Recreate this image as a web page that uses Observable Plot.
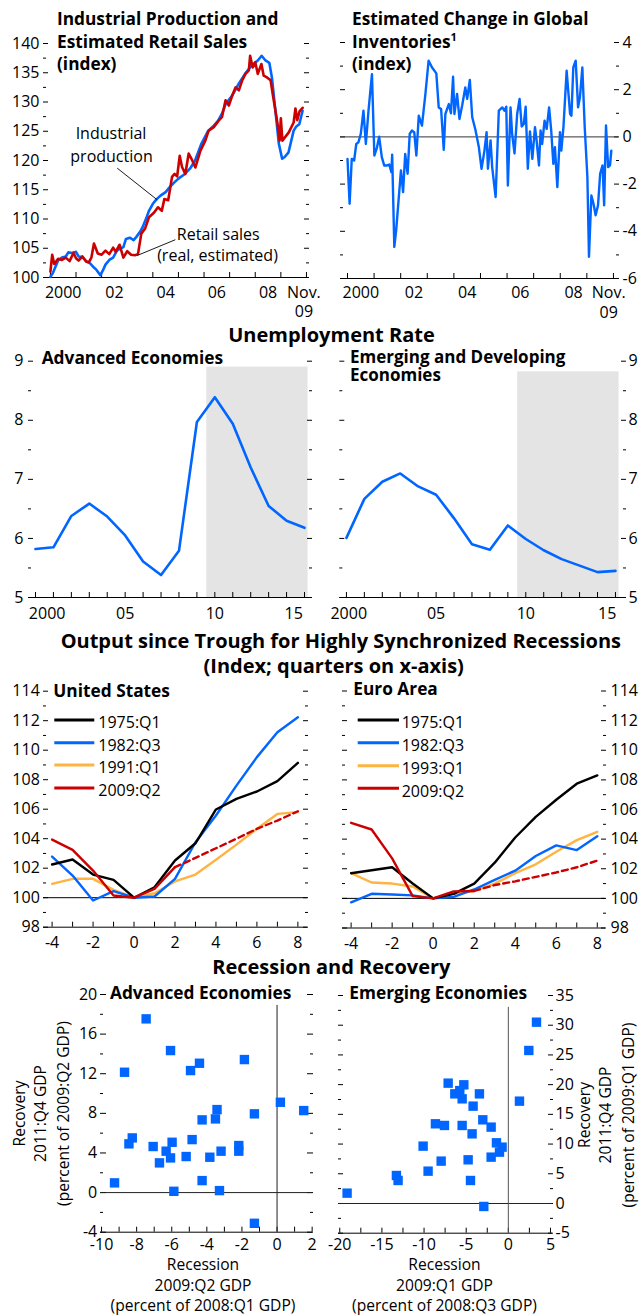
<!DOCTYPE html>
<html lang="en">
<head>
<meta charset="utf-8">
<title>Recession and recovery charts</title>
<script src="https://cdn.jsdelivr.net/npm/d3@7"></script>
<script src="https://cdn.jsdelivr.net/npm/@observablehq/plot@0.6"></script>
<style>
html, body { margin:0; padding:0; background:#fff; }
#root { position:relative; width:644px; height:1316px; overflow:hidden; background:#fff; color:#000; font-family:"Open Sans", sans-serif; }
#root > svg { position:absolute; }
</style>
</head>
<body>
<div id="root"></div>
<script>
// ================= DATA =================
// Panel 1: industrial production and retail sales (index), dates as decimal years
const ipDates = [2000.0,2000.1,2000.3,2000.45,2000.6,2000.7,2000.85,2001.0,2001.1,2001.25,2001.4,2001.55,2001.7,2001.8,2001.95,2002.05,2002.15,2002.3,2002.45,2002.6,2002.75,2002.85,2002.95,2003.1,2003.25,2003.35,2003.5,2003.6,2003.75,2003.85,2004.0,2004.15,2004.3,2004.5,2004.65,2004.85,2005.0,2005.25,2005.45,2005.65,2005.9,2006.15,2006.35,2006.55,2006.7,2006.85,2007.1,2007.35,2007.6,2007.85,2008.1,2008.25,2008.4,2008.55,2008.65,2008.8,2008.92,2009.05,2009.15,2009.3,2009.5,2009.6,2009.72,2009.85];
const ipValues = [100.1,100.8,102.9,103.4,103.6,104.3,104.2,104.4,103.6,103.5,102.8,102.4,101.7,101.3,100.4,101.2,102.2,103.0,103.4,104.6,105.0,105.2,106.6,106.8,106.4,106.9,107.8,108.6,110.2,111.4,112.6,113.4,114.0,114.6,115.4,116.3,116.9,117.7,118.6,120.0,122.9,125.0,125.8,126.8,128.0,129.7,131.1,133.1,134.8,136.2,137.1,137.9,137.1,136.7,134.2,128.0,122.9,120.3,120.6,121.4,125.1,125.8,126.2,128.5];
const rsDates = [2000.0,2000.07,2000.15,2000.3,2000.45,2000.6,2000.75,2000.9,2001.0,2001.1,2001.25,2001.4,2001.5,2001.6,2001.7,2001.85,2002.0,2002.15,2002.3,2002.45,2002.55,2002.7,2002.85,2003.0,2003.15,2003.3,2003.42,2003.55,2003.7,2003.85,2004.05,2004.2,2004.35,2004.45,2004.6,2004.75,2004.85,2004.95,2005.05,2005.14,2005.27,2005.4,2005.52,2005.66,2005.86,2006.05,2006.18,2006.38,2006.57,2006.7,2006.84,2006.97,2007.1,2007.23,2007.36,2007.49,2007.62,2007.75,2007.8,2007.9,2008.0,2008.1,2008.24,2008.33,2008.46,2008.6,2008.7,2008.87,2008.95,2009.0,2009.06,2009.31,2009.5,2009.57,2009.64,2009.73,2009.85];
const rsValues = [101.0,103.9,102.3,103.2,103.0,103.4,102.8,104.2,103.3,102.9,103.6,102.7,102.6,103.4,105.8,104.1,103.9,104.6,104.0,105.1,104.4,105.6,103.4,104.5,103.9,103.8,104.0,107.5,108.4,110.3,111.1,112.0,111.4,113.4,113.2,117.2,117.7,117.3,120.8,118.9,117.7,121.2,120.2,118.8,121.7,123.4,125.1,125.7,126.8,127.4,130.3,129.4,131.1,132.5,132.0,133.7,134.8,135.4,137.9,135.9,136.8,134.8,136.5,134.5,134.2,133.7,130.9,126.3,123.4,127.2,123.4,124.8,126.5,128.9,126.9,128.4,129.0];

// Panel 2: estimated change in global inventories
const invDates = [2000.00,2000.08,2000.16,2000.25,2000.33,2000.41,2000.50,2000.60,2000.69,2000.79,2000.92,
  2001.01,2001.11,2001.19,2001.29,2001.38,2001.48,2001.57,2001.65,2001.68,2001.76,2001.83,
  2002.01,2002.09,2002.17,2002.26,2002.34,2002.42,2002.51,2002.59,2002.68,2002.80,2002.93,
  2003.05,2003.18,2003.34,2003.43,2003.52,2003.62,2003.68,2003.81,2003.89,2003.97,
  2004.02,2004.12,2004.21,2004.31,2004.43,2004.50,2004.60,2004.69,2004.81,2004.94,
  2005.04,2005.15,2005.23,2005.28,2005.38,2005.44,2005.57,2005.69,2005.82,2005.90,2005.97,
  2006.03,2006.13,2006.19,2006.28,2006.38,2006.47,2006.55,2006.63,2006.70,2006.78,2006.86,2006.95,
  2007.05,2007.11,2007.20,2007.26,2007.32,2007.41,2007.49,2007.58,2007.66,2007.74,2007.80,2007.89,2007.99,
  2008.04,2008.12,2008.24,2008.37,2008.42,2008.49,2008.58,2008.67,2008.74,2008.83,2008.92,
  2009.02,2009.08,2009.17,2009.25,2009.33,2009.42,2009.50,2009.59,2009.65,2009.72,2009.80,2009.87,2009.92];
const invValues = [-0.93,-2.83,-0.93,-1.00,-0.30,-0.23,0.13,1.11,-0.30,1.11,2.66,
  -0.79,-0.44,0.01,-0.86,-1.21,-1.21,-1.17,-1.49,-0.75,-4.66,-3.96,
  -1.42,-2.34,-0.72,-1.56,0.13,0.27,0.20,-0.79,0.90,0.48,1.82,
  3.23,2.94,2.69,1.25,1.18,-0.55,0.97,1.39,1.00,2.55,
  0.97,1.82,0.76,1.32,2.10,1.61,2.41,0.83,0.30,-0.44,
  -1.35,-0.58,0.20,-1.35,-0.15,-1.28,-2.55,1.11,1.25,1.11,1.28,
  -2.06,1.25,0.13,-0.70,0.97,1.61,0.44,0.55,1.28,-1.35,0.23,-0.93,
  0.41,-0.15,-1.21,0.27,-0.30,0.69,0.34,1.25,0.27,-1.14,-0.44,-2.13,0.20,
  -0.58,0.41,2.80,0.97,0.90,2.94,3.23,1.25,1.68,2.94,0.41,
  -1.70,-5.08,-2.48,-2.83,-3.32,-2.90,-1.56,-1.21,-2.90,0.48,-1.28,-1.21,-0.58];

// Unemployment rate (percent)
const unempYears = [2000,2001,2002,2003,2004,2005,2006,2007,2008,2009,2010,2011,2012,2013,2014,2015];
const unempAdvanced = [5.82,5.85,6.38,6.59,6.37,6.05,5.61,5.38,5.79,7.97,8.39,7.94,7.20,6.55,6.30,6.18];
const unempEmerging = [6.01,6.67,6.96,7.10,6.88,6.74,6.34,5.90,5.81,6.22,5.99,5.80,5.65,5.54,5.43,5.45];
const projectionStart = 2009.55, projectionEnd = 2015.2;

// Output since trough (index), quarters -4..8
const quarters = [-4,-3,-2,-1,0,1,2,3,4,5,6,7,8];
const us1975 = [102.25,102.59,101.57,101.21,100,100.71,102.52,103.69,105.98,106.70,107.20,107.90,109.14];
const us1982 = [102.79,101.50,99.81,100.44,100,100.08,101.28,103.76,105.57,107.60,109.53,111.22,112.24];
const us1991 = [100.94,101.28,101.28,100.53,100,100.30,101.10,101.57,102.57,103.60,104.67,105.68,105.80];
const us2009 = [103.94,103.24,101.84,100.15,100,100.60,102.07];          // quarters -4..2
const us2009Proj = [102.07,102.70,103.35,104.00,104.67,105.23,105.86];   // quarters 2..8
const eu1975 = [101.70,101.90,102.10,101.00,100,100.30,101.00,102.41,104.11,105.50,106.66,107.74,108.30];
const eu1982 = [99.73,100.31,100.26,100.20,100,100.10,100.60,101.25,101.87,102.86,103.58,103.26,104.20];
const eu1993 = [101.70,101.07,101.00,100.80,100,100.30,100.50,101.00,101.70,102.30,103.15,103.93,104.49];
const eu2009 = [105.10,104.65,102.70,100.15,100,100.47,100.50];
const eu2009Proj = [100.50,100.90,101.15,101.45,101.75,102.10,102.55];
const usLegend = ["1975:Q1","1982:Q3","1991:Q1","2009:Q2"];
const euLegend = ["1975:Q1","1982:Q3","1993:Q1","2009:Q2"];

// Recession and recovery scatter
const advRecession = [-7.46,-6.07,-8.69,-4.42,-4.93,-1.86,0.19,1.52,-1.29,-3.42,-3.51,-4.27,-8.25,-8.44,-7.06,-5.98,-4.84,-6.32,-6.07,-5.18,-6.70,-3.83,-3.19,-2.18,-2.18,-9.26,-4.27,-5.88,-3.28,-1.29];
const advRecovery  = [17.54,14.34,12.15,13.06,12.32,13.43,9.12,8.28,7.95,8.38,7.44,7.34,5.52,4.92,4.65,5.08,5.35,4.18,3.50,3.64,3.00,3.57,4.18,4.75,4.18,0.98,1.21,0.13,0.20,-3.10];
const emRecession  = [3.34,2.43,1.32,-7.14,-5.28,-6.35,-5.76,-5.48,-3.43,-4.18,-8.65,-7.58,-5.48,-3.03,-2.04,-4.30,-10.11,-1.41,-0.74,-1.05,-2.04,-7.97,-4.77,-9.52,-13.28,-13.08,-4.49,-19.13,-2.91];
const emRecovery   = [30.51,25.75,17.22,20.25,19.97,18.45,19.00,17.61,18.45,16.38,13.41,13.13,13.13,14.08,12.85,11.72,9.65,10.21,9.48,8.64,7.80,7.13,7.35,5.44,4.71,3.87,3.87,1.74,-0.50];

// Tick labels
const topYearTicks = [2000,2001,2002,2003,2004,2005,2006,2007,2008,2009,2010];
const topYearLabels = ["2000","02","04","06","08","Nov.\n09"];
const ipYearLabelPos = [2000.5,2002.5,2004.5,2006.5,2008.5,2009.9];
const invYearLabelPos = [2000.5,2002.5,2004.5,2006.5,2008.5,2009.82];
const ipAxisLabels = [100,105,110,115,120,125,130,135,140];
const invAxisLabels = [-6,-4,-2,0,2,4];
const unempAxisLabels = [5,6,7,8,9];
const unempYearLabels = ["2000","05","10","15"];
const outAxisLabels = [98,100,102,104,106,108,110,112,114];
const quarterLabels = [-4,-2,0,2,4,6,8];
const advYLabels = [-4,0,4,8,12,16,20];
const advXLabels = [-10,-8,-6,-4,-2,0,2];
const emYLabels = [-5,0,5,10,15,20,25,30,35];
const emXLabels = [-20,-15,-10,-5,0,5];

// ================= HELPERS =================
const BLUE = "#0066ff", RED = "#cc0000", ORANGE = "#ffb340", SHADE = "#e4e4e4";
const FONT = '"Open Sans", sans-serif';
const root = document.getElementById("root");
const seq = (a, b, s) => { const r = []; for (let v = a; v <= b + 1e-9; v += s) r.push(+v.toFixed(4)); return r; };
const zip = (xs, ys, kx = "x", ky = "y") => xs.slice(0, Math.min(xs.length, ys.length)).map((x, i) => ({[kx]: x, [ky]: ys[i]}));

function place(opts, left, top) {
  const svg = Plot.plot({...opts, style: {fontFamily: FONT, fontSize: "16px", overflow: "visible", background: "transparent", color: "#000"}});
  svg.style.position = "absolute";
  svg.style.left = left + "px";
  svg.style.top = top + "px";
  root.appendChild(svg);
}
function yAxes({labels, labelAnchor, pad, majors, minors, majLen = 5, minLen = 3}) {
  const m = [];
  for (const [anchor, s] of [["left", 1], ["right", -1]]) {
    m.push(Plot.axisY(majors, {anchor, tickSize: majLen, dx: s * majLen, fill: "none", label: null}));
    if (minors && minors.length) m.push(Plot.axisY(minors, {anchor, tickSize: minLen, dx: s * minLen, fill: "none", label: null}));
  }
  m.push(Plot.axisY(labels, {anchor: labelAnchor, tickSize: 0, tickPadding: pad, tickFormat: d => String(d), label: null, fontSize: 16}));
  return m;
}
function xAxes({ticks, labelPos, labelText, pad, base, tickLen = 5}) {
  const lab = new Map(labelPos.map((p, i) => [p, labelText[i]]));
  return [
    Plot.ruleY([base], {stroke: "#000", strokeWidth: 1}),
    Plot.axisX(ticks, {anchor: "bottom", tickSize: tickLen, dy: -tickLen, fill: "none", label: null}),
    Plot.axisX(labelPos, {anchor: "bottom", tickSize: 0, tickPadding: pad, tickFormat: d => lab.get(d), label: null, lineHeight: 1.22, fontSize: 16})
  ];
}

// ================= PANEL 1: Industrial production & retail sales =================
place({
  width: 320, height: 300, marginLeft: 43, marginRight: 12, marginTop: 43, marginBottom: 23,
  x: {domain: [1999.73, 2010.08]}, y: {domain: [100, 140]},
  marks: [
    ...yAxes({labels: ipAxisLabels, labelAnchor: "left", pad: 4, majors: ipAxisLabels, minors: seq(102.5, 137.5, 5)}),
    ...xAxes({ticks: topYearTicks, labelPos: ipYearLabelPos, labelText: topYearLabels, pad: 6.5, base: 100}),
    Plot.line(zip(ipDates, ipValues), {x: "x", y: "y", stroke: BLUE, strokeWidth: 2.6}),
    Plot.line(zip(rsDates, rsValues), {x: "x", y: "y", stroke: RED, strokeWidth: 2.6}),
    Plot.link([{x1: 2002.61, y1: 118.69, x2: 2004.17, y2: 113.28}, {x1: 2004.88, y1: 106.46, x2: 2003.39, y2: 103.76}],
      {x1: "x1", y1: "y1", x2: "x2", y2: "y2", stroke: "#000", strokeWidth: 0.9})
  ]
}, 0, 0);

// ================= PANEL 2: Inventories =================
place({
  width: 324, height: 300, marginLeft: 20, marginRight: 26, marginTop: 42, marginBottom: 22,
  x: {domain: [1999.737, 2010.19]}, y: {domain: [-6, 4]},
  marks: [
    ...yAxes({labels: invAxisLabels, labelAnchor: "right", pad: 4, majors: invAxisLabels, minors: [-5,-3,-1,1,3]}),
    ...xAxes({ticks: topYearTicks, labelPos: invYearLabelPos, labelText: topYearLabels, pad: 5.8, base: -6}),
    Plot.ruleY([0], {stroke: "#333", strokeWidth: 1}),
    Plot.line(zip(invDates, invValues), {x: "x", y: "y", stroke: BLUE, strokeWidth: 2.4})
  ]
}, 320, 0);

// ================= PANELS 3-4: Unemployment =================
place({
  width: 320, height: 280, marginLeft: 28, marginRight: 9, marginTop: 20.7, marginBottom: 23,
  x: {domain: [1999.61, 2015.39]}, y: {domain: [5, 9]},
  marks: [
    Plot.rect([{x1: projectionStart, x2: projectionEnd, y1: 5, y2: 8.9}], {x1: "x1", x2: "x2", y1: "y1", y2: "y2", fill: SHADE}),
    ...yAxes({labels: unempAxisLabels, labelAnchor: "left", pad: 5, majors: unempAxisLabels, minors: [5.5,6.5,7.5,8.5]}),
    ...xAxes({ticks: unempYears, labelPos: [2000.65, 2005, 2010, 2014.4], labelText: unempYearLabels, pad: 7.6, base: 5}),
    Plot.line(zip(unempYears, unempAdvanced), {x: "x", y: "y", stroke: BLUE, strokeWidth: 2.6})
  ]
}, 0, 340);

place({
  width: 324, height: 280, marginLeft: 19.3, marginRight: 19, marginTop: 20.7, marginBottom: 23,
  x: {domain: [1999.63, 2015.56]}, y: {domain: [5, 9]},
  marks: [
    Plot.rect([{x1: projectionStart, x2: projectionEnd, y1: 5, y2: 8.82}], {x1: "x1", x2: "x2", y1: "y1", y2: "y2", fill: SHADE}),
    ...yAxes({labels: unempAxisLabels, labelAnchor: "right", pad: 3, majors: unempAxisLabels, minors: [5.5,6.5,7.5,8.5]}),
    ...xAxes({ticks: unempYears, labelPos: [2000.13, 2005, 2010, 2014.54], labelText: unempYearLabels, pad: 7.6, base: 5}),
    Plot.line(zip(unempYears, unempEmerging), {x: "x", y: "y", stroke: BLUE, strokeWidth: 2.6})
  ]
}, 320, 340);

// ================= PANELS 5-6: Output since trough =================
function outputMarks(s1975, s1982, s199x, s2009, s2009p, labelAnchor, pad) {
  return [
    ...yAxes({labels: outAxisLabels, labelAnchor, pad, majors: outAxisLabels, minors: [99,101,103,105,107,109,111,113]}),
    ...xAxes({ticks: quarters, labelPos: quarterLabels, labelText: quarterLabels.map(String), pad: 6.9, base: 98}),
    Plot.ruleY([100], {stroke: "#000", strokeWidth: 1}),
    Plot.line(zip(quarters, s199x), {x: "x", y: "y", stroke: ORANGE, strokeWidth: 2.4}),
    Plot.line(zip(quarters, s1982), {x: "x", y: "y", stroke: BLUE, strokeWidth: 2.4}),
    Plot.line(zip(quarters, s1975), {x: "x", y: "y", stroke: "#000", strokeWidth: 2.4}),
    Plot.line(zip(quarters.slice(0, 7), s2009), {x: "x", y: "y", stroke: RED, strokeWidth: 2.4}),
    Plot.line(zip(quarters.slice(6), s2009p), {x: "x", y: "y", stroke: RED, strokeWidth: 2.4, strokeDasharray: "6,4"})
  ];
}
place({
  width: 320, height: 280, marginLeft: 43, marginRight: 13, marginTop: 10.7, marginBottom: 33.3,
  x: {domain: [-4.42, 8.47]}, y: {domain: [98, 114]},
  marks: outputMarks(us1975, us1982, us1991, us2009, us2009Proj, "left", 3.7)
}, 0, 680);
place({
  width: 324, height: 280, marginLeft: 22, marginRight: 39, marginTop: 10.5, marginBottom: 32.5,
  x: {domain: [-4.42, 8.40]}, y: {domain: [98, 114]},
  marks: outputMarks(eu1975, eu1982, eu1993, eu2009, eu2009Proj, "right", 5)
}, 320, 680);

// ================= PANELS 7-8: Recession and recovery =================
place({
  width: 320, height: 280, marginLeft: 100, marginRight: 8, marginTop: 14, marginBottom: 28.3,
  x: {domain: [-10.06, 2.02]}, y: {domain: [-4, 20]},
  marks: [
    ...yAxes({labels: advYLabels, labelAnchor: "left", pad: 3.3, majors: advYLabels, minors: [-2,2,6,10,14,18], majLen: 6}),
    ...xAxes({ticks: seq(-10, 2, 1), labelPos: advXLabels, labelText: advXLabels.map(String), pad: 3.6, base: -4}),
    Plot.ruleY([0], {stroke: "#222", strokeWidth: 1}),
    Plot.ruleX([0], {y1: -4, y2: 18.9, stroke: "#222", strokeWidth: 1}),
    Plot.dot(zip(advRecession, advRecovery), {x: "x", y: "y", symbol: "square", r: 5.3, fill: BLUE, stroke: "none"})
  ]
}, 0, 980);
place({
  width: 324, height: 280, marginLeft: 18, marginRight: 92, marginTop: 15, marginBottom: 27.3,
  x: {domain: [-20.15, 5.24]}, y: {domain: [-5, 35]},
  marks: [
    ...yAxes({labels: emYLabels, labelAnchor: "right", pad: 3, majors: emYLabels, minors: seq(-2.5, 32.5, 5)}),
    ...xAxes({ticks: seq(-20, 5, 2.5), labelPos: emXLabels, labelText: emXLabels.map(String), pad: 2.8, base: -5}),
    Plot.ruleY([0], {stroke: "#222", strokeWidth: 1}),
    Plot.ruleX([0], {y1: -5, y2: 33, stroke: "#555", strokeWidth: 1}),
    Plot.dot(zip(emRecession, emRecovery), {x: "x", y: "y", symbol: "square", r: 5.3, fill: BLUE, stroke: "none"})
  ]
}, 320, 980);

// ================= TEXT OVERLAY (titles, annotations, legends) =================
const ov = d3.select(root).append("svg")
  .attr("width", 644).attr("height", 1316)
  .style("left", "0px").style("top", "0px").style("overflow", "visible").style("pointer-events", "none")
  .attr("font-family", FONT);
function T(str, x, y, o = {}) {
  const t = ov.append("text").attr("x", x).attr("y", y)
    .attr("font-size", o.size || 16).attr("font-weight", o.bold ? 700 : 400)
    .attr("text-anchor", o.anchor || "start").attr("fill", "#000").text(str);
  if (o.rotate) t.attr("transform", `rotate(-90 ${x} ${y})`);
  return t;
}
const PT = {bold: true, size: 17.3};
const ST = {bold: true, size: 20, anchor: "middle"};
const AT = {size: 15.6, anchor: "middle"};
// Top panel titles
T("Industrial Production and", 57, 25, PT);
T("Estimated Retail Sales", 57, 48.3, PT);
T("(index)", 57, 70, PT);
T("Estimated Change in Global", 352, 25, PT);
const inv = T("Inventories", 352, 48.3, PT);
inv.append("tspan").attr("dy", -7).attr("font-size", 11).text("1");
T("(index)", 352, 70, PT);
// Annotations
T("Industrial", 111, 139.3, {anchor: "middle"});
T("production", 111.5, 161.7, {anchor: "middle"});
T("Retail sales", 218.3, 240, {anchor: "middle"});
T("(real, estimated)", 217.5, 261, {anchor: "middle"});
// Section titles
T("Unemployment Rate", 331.5, 341.5, ST);
T("Output since Trough for Highly Synchronized Recessions", 340.8, 647.7, ST);
T("(Index; quarters on x-axis)", 333.7, 673.3, ST);
T("Recession and Recovery", 331.3, 974, ST);
// Panel subtitles
T("Advanced Economies", 41.7, 364, PT);
T("Emerging and Developing", 350, 362.5, {bold: true, size: 17});
T("Economies", 350, 380.5, {bold: true, size: 17});
T("United States", 53.3, 696.7, PT);
T("Euro Area", 353.3, 695.3, PT);
T("Advanced Economies", 110, 999, PT);
T("Emerging Economies", 349.3, 999, PT);
// Legends
const legendColors = ["#000", BLUE, ORANGE, RED];
const usRows = [720, 742.7, 765, 788], euRows = [720, 742.7, 765.7, 788.3];
usLegend.forEach((s, i) => {
  ov.append("line").attr("x1", 54.3).attr("x2", 94.3).attr("y1", usRows[i]).attr("y2", usRows[i]).attr("stroke", legendColors[i]).attr("stroke-width", 3);
  T(s, 98.3, usRows[i] + 8.3);
});
euLegend.forEach((s, i) => {
  ov.append("line").attr("x1", 357.7).attr("x2", 399).attr("y1", euRows[i]).attr("y2", euRows[i]).attr("stroke", legendColors[i]).attr("stroke-width", 3);
  T(s, 401.7, euRows[i] + 8.3);
});
// Scatter axis titles
const AR = {size: 15.6, anchor: "middle", rotate: true};
T("Recovery", 24.7, 1113.5, AR);
T("2011:Q4 GDP", 46.4, 1113.5, AR);
T("(percent of 2009:Q2 GDP)", 68.9, 1113.5, AR);
T("Recovery", 589.7, 1115, AR);
T("2011:Q4 GDP", 611.4, 1115, AR);
T("(percent of 2009:Q1 GDP)", 634, 1115, AR);
T("Recession", 203, 1270, AT);
T("2009:Q2 GDP", 203, 1290.5, AT);
T("(percent of 2008:Q1 GDP)", 203, 1311, AT);
T("Recession", 444.5, 1270, AT);
T("2009:Q1 GDP", 444.5, 1290.5, AT);
T("(percent of 2008:Q3 GDP)", 444.5, 1311, AT);
</script>
</body>
</html>
